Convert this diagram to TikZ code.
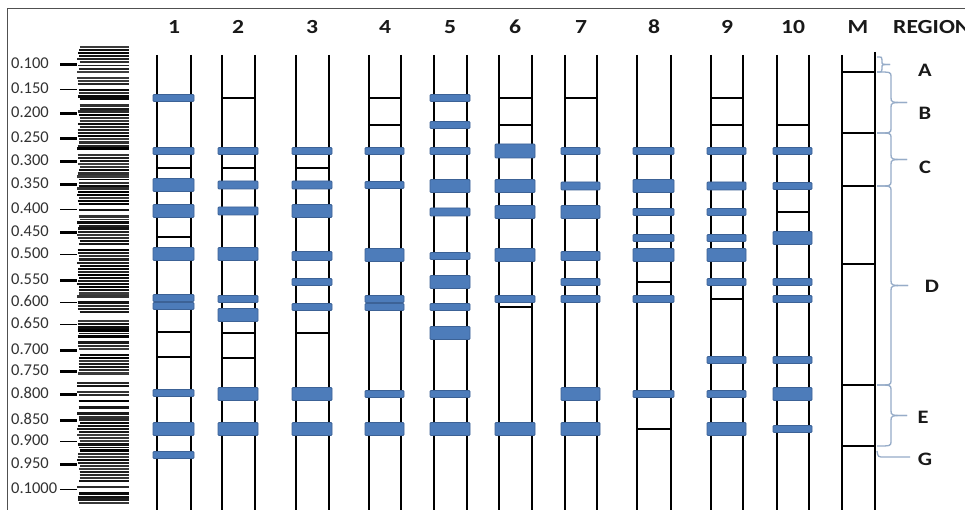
\documentclass[tikz,border=0pt]{standalone}
\usepackage{fontspec}
\setmainfont{Carlito}
\newfontfamily\hdrfont[FakeStretch=1.18]{Carlito}
\definecolor{bandblue}{RGB}{77,124,186}
\definecolor{bandedge}{RGB}{60,98,150}
\definecolor{bracecol}{RGB}{150,172,200}
\definecolor{framecol}{RGB}{80,80,80}
\definecolor{scaletxt}{RGB}{50,50,50}
\tikzset{
  lanestyle/.style={line width=2.6pt, black},
  blueband/.style={fill=bandblue, draw=bandedge, line width=0.8pt, rounded corners=1pt},
  blackband/.style={line width=2pt, black},
  hdr/.style={font=\hdrfont\bfseries\fontsize{20}{22}\selectfont, text=black!90, inner sep=0pt},
  reglab/.style={font=\hdrfont\bfseries\fontsize{19}{21}\selectfont, text=black!90, inner sep=0pt},
  scalelab/.style={font=\fontsize{16.5}{18}\selectfont, text=scaletxt, inner sep=0pt, anchor=west},
  bracestyle/.style={draw=bracecol, line width=1.3pt},
}
\newcommand\drawlane[3]{%
  \draw[lanestyle] (#1,55) -- (#1,512);
  \draw[lanestyle] (#2,55) -- (#2,512);
  \foreach \yy/\hh in {#3}{%
    \ifdim \hh pt=0pt
      \draw[blackband] (#1,\yy) -- (#2,\yy);
    \else
      \draw[blueband] ({#1-4},{\yy-\hh/2}) rectangle ({#2+3},{\yy+\hh/2});
    \fi
  }%
}
% brace: y1, y2, vertical x, tip x, radius
\newcommand\regbrace[5]{%
  \pgfmathsetmacro\bm{(#1+#2)/2}%
  \draw[bracestyle] (877,#1) .. controls (#3,#1) .. (#3,{#1+#5}) -- (#3,{\bm-#5})
     .. controls (#3,\bm) .. (#4,\bm);
  \draw[bracestyle] (#4,\bm) .. controls (#3,\bm) .. (#3,{\bm+#5}) -- (#3,{#2-#5})
     .. controls (#3,#2) .. (877,#2);
}
\begin{document}
\begin{tikzpicture}[x=1pt,y=-1pt]
\useasboundingbox (0,0) rectangle (965,510);
\fill[white] (0,0) rectangle (965,510);
% frame
\draw[framecol, line width=1pt] (7,512) -- (7,9) -- (967,9);

% barcode ladder
\pgfmathsetseed{42}
\foreach \i in {0,...,149}{%
  \pgfmathsetmacro\yy{47+3.08*\i}%
  \pgfmathsetmacro\rr{rnd}%
  \pgfmathsetmacro\ww{1.7+0.9*rnd}%
  \pgfmathsetmacro\gg{75+25*rnd}%
  \pgfmathsetmacro\xs{77+3*rnd}%
  \ifdim\rr pt>0.08pt
    \draw[line width=\ww pt, black!\gg] (\xs,\yy) -- (129,\yy);
  \fi
}

% scale labels and ticks
\foreach \lab/\yy/\w [count=\k] in {0.100/63/2.3, 0.150/88/1, 0.200/112/2.3, 0.250/137/2.3, 0.300/160/2.3, 0.350/183/2.3, 0.400/208/1, 0.450/231/2.3, 0.500/253/1, 0.550/279/2.3, 0.600/301/1, 0.650/323/1, 0.700/349/2.3, 0.750/370/2.3, 0.800/393/2.3, 0.850/419/2.3, 0.900/440/1, 0.950/463/2.3, 0.1000/488/1}{%
  \node[scalelab] (s\k) at (11,\yy) {\lab};
  \draw[line width=\w pt, black] (60,{\yy+1.5}) -- (77,{\yy+1.5});
}

% lane headers
\foreach \t/\x [count=\k] in {1/174, 2/238, 3/312, 4/385, 5/450, 6/515, 7/581, 8/654, 9/727, 10/793, M/858}{%
  \node[hdr] (h\k) at (\x,27) {\t};
}
\node[hdr, anchor=west] (hreg) at (893,27) {REGION};

% lanes
\drawlane{157}{191}{98/7, 151/7, 168/0, 185/13, 211/13, 237/0, 254/13, 298/7, 306/7, 332/0, 357/0, 393/7, 429/13, 455/7}
\drawlane{222}{255}{98/0, 151/7, 168/0, 185/8, 211/8, 254/13, 299/7, 315/13, 333/0, 358/0, 394/13, 429/13}
\drawlane{296}{329}{151/7, 168/0, 185/8, 211/13, 256/9, 282/7, 307/7, 333/0, 394/13, 429/13}
\drawlane{369}{401}{98/0, 125/0, 151/7, 185/7, 255/13, 299/7, 307/7, 394/7, 429/13}
\drawlane{434}{467}{98/7, 125/7, 151/7, 186/13, 212/8, 256/7, 282/13, 307/7, 333/13, 394/7, 429/13}
\drawlane{499}{532}{98/0, 125/0, 151/14, 186/13, 212/13, 255/13, 299/7, 307/0, 429/13}
\drawlane{565}{597}{98/0, 151/7, 186/8, 212/13, 256/9, 282/7, 299/7, 394/13, 429/13}
\drawlane{637}{671}{151/7, 186/13, 212/7, 238/7, 255/13, 282/0, 299/7, 394/7, 429/0}
\drawlane{711}{743}{98/0, 125/0, 151/7, 186/8, 212/7, 238/7, 255/13, 282/7, 299/0, 360/7, 394/7, 429/13}
\drawlane{777}{809}{125/0, 151/7, 186/7, 212/0, 238/13, 282/7, 299/7, 360/7, 394/13, 429/7}

% marker lane
\draw[lanestyle] (842,55) -- (842,512);
\draw[lanestyle] (875,52) -- (875,512);
\foreach \yy in {72,133,186,264,385,446}{%
  \draw[blackband] (842,\yy) -- (876,\yy);
}

% region braces
\regbrace{57}{72}{882}{890}{3}
\regbrace{72}{133}{891}{907}{5}
\regbrace{133}{186}{891}{907}{5}
\regbrace{186}{385}{891}{908}{5}
\regbrace{385}{446}{891}{907}{5}
\draw[bracestyle] (877,451) .. controls (878,457) .. (884,457) -- (910,457);

\node[reglab] (rA) at (925,70) {A};
\node[reglab] (rB) at (925,113) {B};
\node[reglab] (rC) at (925,167) {C};
\node[reglab] (rD) at (932,286) {D};
\node[reglab] (rE) at (923,417) {E};
\node[reglab] (rG) at (925,459) {G};
\end{tikzpicture}
\end{document}
